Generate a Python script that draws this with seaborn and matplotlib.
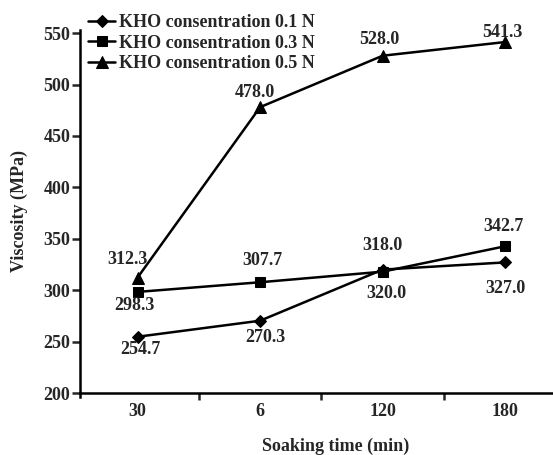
import matplotlib
matplotlib.use("Agg")
import matplotlib.pyplot as plt
import seaborn as sns
import pandas as pd
import numpy as np
from matplotlib.ticker import FixedLocator

sns.set_theme(style="ticks")
plt.rcParams['font.family'] = ['Liberation Serif', 'DejaVu Serif']
plt.rcParams['font.weight'] = 'bold'

# ---- data ----
times = ["30", "6", "120", "180"]
series_names = ["KHO consentration 0.1 N", "KHO consentration 0.3 N", "KHO consentration 0.5 N"]
visc_01 = [254.7, 270.3, 320.0, 327.0]
visc_03 = [298.3, 307.7, 318.0, 342.7]
visc_05 = [312.3, 478.0, 528.0, 541.3]
yticks = [200, 250, 300, 350, 400, 450, 500, 550]

# ---- style ----
FS = 13
markers = ["D", "s", "^"]
msizes = [6, 7.5, 8.5]
# label offsets in pixels (dx, dy)
offsets = [
    [(3, -13), (5, -17), (4, -24), (0, -26)],
    [(-3, -14), (2, 22), (0, 26), (-2, 20)],
    [(-10, 18), (-5, 15), (-3, 16), (-3, 10)],
]

L, B, T = 80, 393, 30
fig = plt.figure(figsize=(5.53, 4.55), dpi=100)
ax = fig.add_axes([L/553, (455-B)/455, 1 - L/553, (B-T)/455])

all_vals = [visc_01, visc_03, visc_05]
for name, vals, mk, ms in zip(series_names, all_vals, markers, msizes):
    sns.lineplot(x=times, y=vals, ax=ax, color="black", linewidth=1.8,
                 marker=mk, markersize=ms, markeredgecolor="black",
                 markerfacecolor="black", label=name, sort=False)

for vals, offs in zip(all_vals, offsets):
    for i, (v, (dx, dy)) in enumerate(zip(vals, offs)):
        ax.annotate(f"{v:.1f}", (i, v), xytext=(dx, dy), textcoords="offset pixels",
                    ha="center", va="center", fontsize=FS, fontweight="bold")

ax.set_ylim(200, 553)
ax.set_xlim(-0.47, 3.39)
ax.set_yticks(yticks)
ax.set_xticks(range(len(times)))
ax.set_xticklabels(times)
ax.tick_params(axis="x", which="major", length=0, pad=7, labelsize=FS)
ax.xaxis.set_minor_locator(FixedLocator([0.5, 1.5, 2.5]))
ax.tick_params(axis="x", which="minor", length=5, width=1.8, direction="out")
ax.tick_params(axis="y", length=6, width=1.8, labelsize=FS, pad=1)
for s in ["top", "right"]:
    ax.spines[s].set_visible(False)
for s in ["left", "bottom"]:
    ax.spines[s].set_linewidth(1.8)
    ax.spines[s].set_color("black")
ax.spines["left"].set_bounds(196, 553)

ax.set_ylabel("Viscosity (MPa)", fontsize=FS, fontweight="bold")
ax.yaxis.set_label_coords(-(L-28)/(553-L), 0.5)
ax.set_xlabel("Soaking time (min)", fontsize=FS, fontweight="bold")
ax.xaxis.set_label_coords((336-L)/(553-L), -45/(B-T))

leg = ax.legend(loc="upper left", bbox_to_anchor=(88/553, 1 - 14/455),
                bbox_transform=fig.transFigure, frameon=False, fontsize=FS,
                handlelength=1.5, handletextpad=0.2, labelspacing=0.2,
                borderaxespad=0, borderpad=0)

fig.savefig("out.png", dpi=100)
